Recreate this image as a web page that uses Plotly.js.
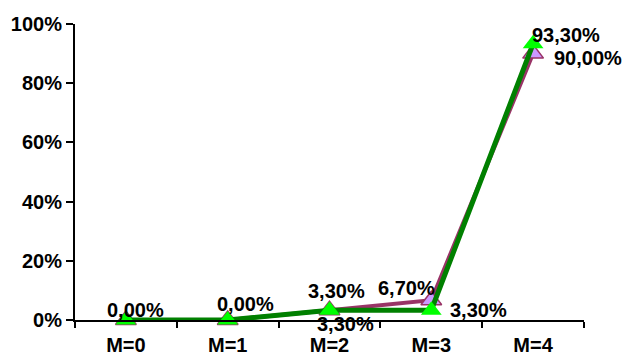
<!DOCTYPE html>
<html><head><meta charset="utf-8">
<script src="https://cdn.plot.ly/plotly-3.0.1.min.js"></script>
<style>html,body{margin:0;padding:0;background:#fff}#chart{width:624px;height:356px}</style>
</head><body><div id="chart"></div>
<script>
const categories = ["M=0","M=1","M=2","M=3","M=4"];
const seriesPurple = [0, 0, 3.3, 6.7, 90.0];
const seriesGreen = [0, 0, 3.3, 3.3, 93.3];
const yTickVals = [0, 20, 40, 60, 80, 100];
const yTickText = ["0%","20%","40%","60%","80%","100%"];

// label placement (pixel offsets from the point), null = not shown
const purpleLabelShift = [null, null, [7,19], [-25,12], [55,-4]];
const greenLabelShift = [[10,10], [18,16], [16,-14], [47,0], [33,9]];

function fmt(v){ return v.toFixed(2).replace('.', ',') + '%'; }

const font = {family: 'Arial, "Liberation Sans", sans-serif', size: 20, color: '#000'};

const traces = [
  {x: categories, y: seriesPurple, type: 'scatter', mode: 'lines+markers',
   line: {color: '#993366', width: 4},
   marker: {symbol: 'triangle-up', size: 18, color: '#CC99FF', line: {color: '#993366', width: 1.5}},
   cliponaxis: false, hoverinfo: 'none'},
  {x: categories, y: seriesGreen, type: 'scatter', mode: 'lines+markers',
   line: {color: '#008000', width: 5},
   marker: {symbol: 'triangle-up', size: 18, color: '#00FF00', line: {width: 0}},
   cliponaxis: false, hoverinfo: 'none'}
];

const annotations = [];
[[seriesPurple, purpleLabelShift], [seriesGreen, greenLabelShift]].forEach(([vals, shifts]) => {
  vals.forEach((v, i) => {
    if (!shifts[i]) return;
    annotations.push({x: categories[i], y: v, text: '<b>' + fmt(v) + '</b>', showarrow: false,
      xshift: shifts[i][0], yshift: shifts[i][1], font: font, xanchor: 'center', yanchor: 'middle'});
  });
});

const layout = {
  width: 624, height: 356,
  margin: {l: 75, r: 40, t: 24, b: 36},
  paper_bgcolor: '#fff', plot_bgcolor: '#fff',
  showlegend: false,
  font: font,
  xaxis: {type: 'category', range: [-0.5, 4.5], showgrid: false, zeroline: false,
    showline: true, linecolor: '#000', linewidth: 2,
    ticks: 'outside', ticklen: 6, tickwidth: 2, tickcolor: '#000', tickson: 'boundaries',
    ticklabelstandoff: 6,
    tickfont: font, tickprefix: '<b>', ticksuffix: '</b>'},
  yaxis: {range: [0, 100], showgrid: false, zeroline: false,
    showline: true, linecolor: '#000', linewidth: 2,
    ticks: 'outside', ticklen: 7, tickwidth: 2, tickcolor: '#000',
    tickvals: yTickVals, ticktext: yTickText.map(t => '<b>' + t + '</b>'), tickfont: font},
  annotations: annotations
};

Plotly.newPlot('chart', traces, layout, {staticPlot: true, displayModeBar: false});
</script></body></html>
